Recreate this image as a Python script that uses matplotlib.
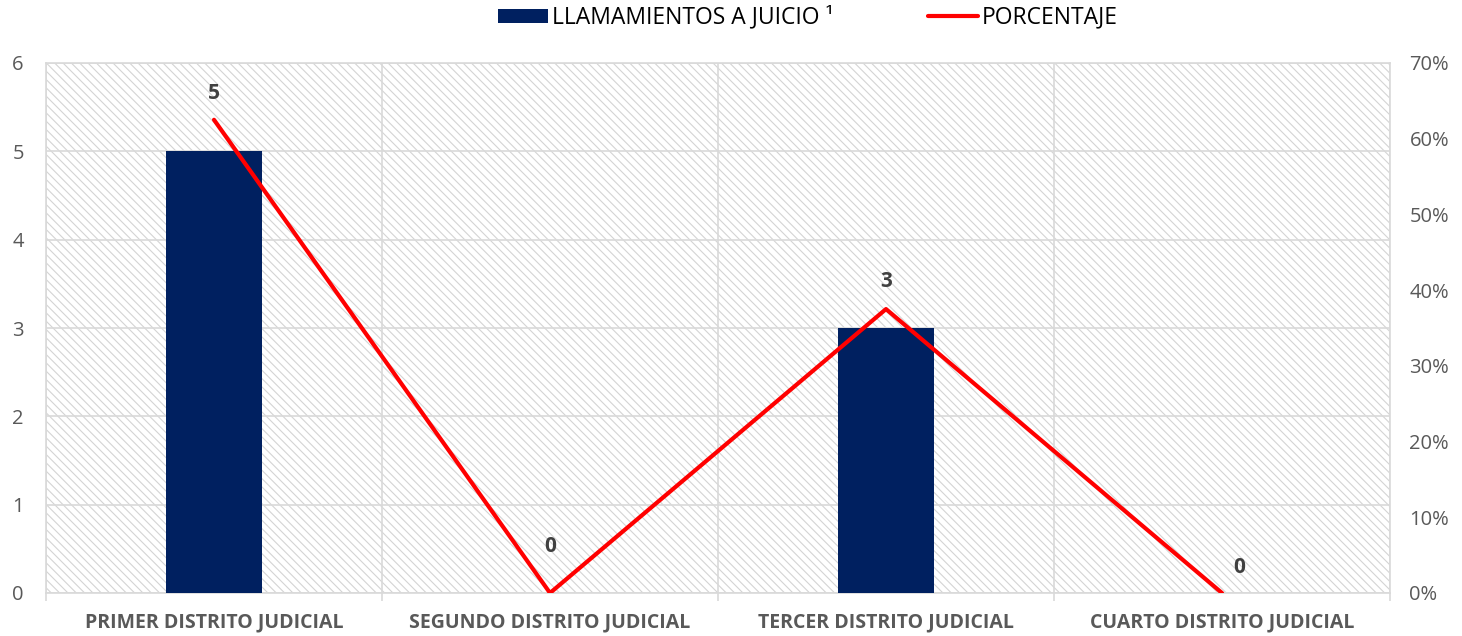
import matplotlib
matplotlib.use("Agg")
import matplotlib.pyplot as plt
import numpy as np
from matplotlib.patches import Rectangle
from matplotlib.ticker import FuncFormatter

plt.rcParams['font.family'] = ['Open Sans', 'DejaVu Sans']
plt.rcParams['hatch.linewidth'] = 0.8

categories = ['PRIMER DISTRITO JUDICIAL', 'SEGUNDO DISTRITO JUDICIAL',
              'TERCER DISTRITO JUDICIAL', 'CUARTO DISTRITO JUDICIAL']
llamamientos = [5, 0, 3, 0]
porcentaje = [0.625, 0.0, 0.375, 0.0]

bar_color = '#002060'
line_color = '#ff0000'
grid_color = '#d9d9d9'
hatch_color = '#d4d4d4'
text_gray = '#595959'

fig = plt.figure(figsize=(14.62, 6.36), dpi=100)
ax = fig.add_axes([46 / 1462, 43 / 636, 1344 / 1462, 530 / 636])

x = np.arange(len(categories))
ax.set_xlim(-0.5, len(categories) - 0.5)
ax.set_ylim(0, 6)

# hatched plot area
ax.add_patch(Rectangle((0, 0), 1, 1, transform=ax.transAxes, facecolor='white',
                       edgecolor=hatch_color, linewidth=0, hatch='\\\\\\\\', zorder=0))

bars = ax.bar(x, llamamientos, width=0.286, color=bar_color, zorder=3,
              label='LLAMAMIENTOS A JUICIO ¹')

ax.set_yticks(range(0, 7))
ax.yaxis.grid(True, color=grid_color, linewidth=1.2, zorder=1)
for b in np.arange(-0.5, len(categories), 1.0):
    ax.axvline(b, color=grid_color, linewidth=1.2, zorder=1)

ax.set_xticks(x)
ax.set_xticklabels(categories, fontsize=14, fontweight='bold', color=text_gray)
ax.set_xticks(np.arange(-0.5, len(categories), 1.0), minor=True)
ax.tick_params(axis='x', which='major', length=0, pad=14)
ax.tick_params(axis='x', which='minor', length=6, color=grid_color, width=1.2)
ax.tick_params(axis='y', length=0, labelsize=14.5, labelcolor=text_gray, pad=16)
for s in ax.spines.values():
    s.set_color(grid_color)
    s.set_linewidth(1.2)

ax2 = ax.twinx()
ax2.set_ylim(0, 0.7)
ax2.set_yticks(np.arange(0, 0.71, 0.1))
ax2.yaxis.set_major_formatter(FuncFormatter(lambda v, p: f'{v * 100:.0f}%'))
ax2.tick_params(axis='y', length=0, labelsize=14.5, labelcolor=text_gray, pad=14)
for s in ax2.spines.values():
    s.set_visible(False)
line, = ax2.plot(x, porcentaje, color=line_color, linewidth=3, zorder=5,
                 solid_capstyle='round', label='PORCENTAJE')

# data labels
label_pos = [(0, 5.66), (1, 0.53), (2, 3.53), (3.05, 0.29)]
for (lx, ly), v in zip(label_pos, llamamientos):
    ax.text(lx, ly, str(v), ha='center', va='center', fontsize=15,
            fontweight='bold', color='#404040', zorder=6)

fig.legend(handles=[bars, line], loc='center', bbox_to_anchor=(808 / 1462, 0.972),
           ncol=2, frameon=False, fontsize=16.5, handlelength=2.2,
           handleheight=0.55, handletextpad=0.17, columnspacing=4.1,
           borderpad=0, borderaxespad=0)

fig.savefig('out.png', dpi=100)
